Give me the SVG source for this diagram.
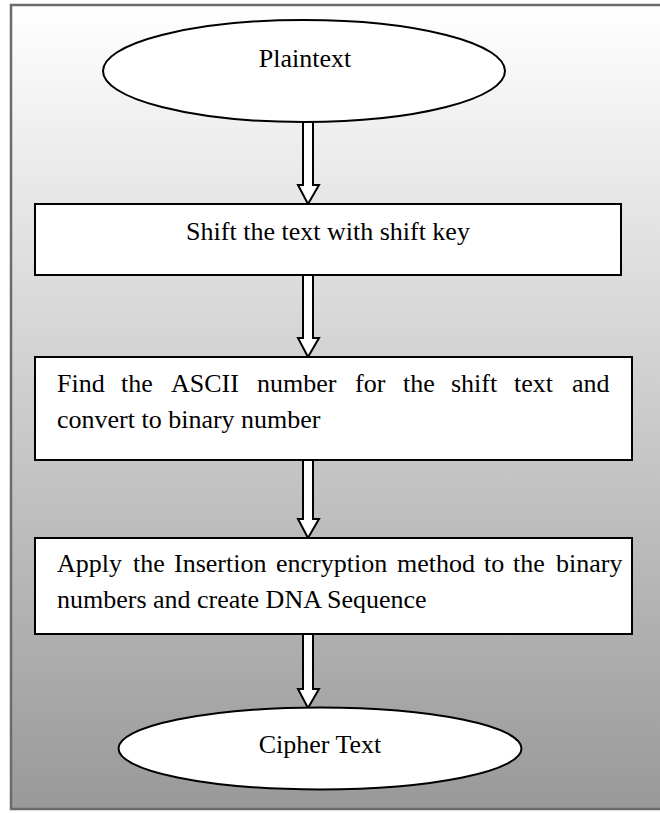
<svg xmlns="http://www.w3.org/2000/svg" width="660" height="813" viewBox="0 0 660 813">
<defs>
<linearGradient id="bg" x1="0" y1="0" x2="0" y2="1">
<stop offset="0" stop-color="#ffffff"/>
<stop offset="1" stop-color="#999999"/>
</linearGradient>
<style>
.node{fill:#ffffff;stroke:#000000;stroke-width:2}
.arrow{fill:#ffffff;stroke:#000000;stroke-width:2;stroke-linejoin:miter}
text{font-family:"Liberation Serif","Times New Roman","DejaVu Serif",serif;font-size:26px;fill:#000000}
.c{text-anchor:middle}
</style>
</defs>
<rect x="11" y="5" width="660" height="804" fill="url(#bg)" stroke="#6b6b6b" stroke-width="2.5"/>
<g id="connectors">
<path class="arrow" d="M303,122 L303,185 L298,185 L308,204 L319,185 L313,185 L313,122"/>
<path class="arrow" d="M303,275 L303,338 L298,338 L308,357 L319,338 L313,338 L313,275"/>
<path class="arrow" d="M303,460 L303,519 L298,519 L308,538 L319,519 L313,519 L313,460"/>
<path class="arrow" d="M303,634 L303,689 L298,689 L308,708 L319,689 L313,689 L313,634"/>
</g>
<g id="plaintext">
<ellipse class="node" cx="304" cy="71" rx="201" ry="51"/>
<text class="c" x="305" y="67" font-family="Liberation Serif, serif">Plaintext</text>
</g>
<g id="shift">
<rect class="node" x="35" y="204" width="586" height="71"/>
<text class="c" x="328" y="240" font-family="Liberation Serif, serif">Shift the text with shift key</text>
</g>
<g id="ascii">
<rect class="node" x="35" y="357" width="597" height="103"/>
<text y="392" font-family="Liberation Serif, serif"><tspan x="57">Find</tspan><tspan x="121">the</tspan><tspan x="171">ASCII</tspan><tspan x="257">number</tspan><tspan x="355">for</tspan><tspan x="403">the</tspan><tspan x="451">shift</tspan><tspan x="514">text</tspan><tspan x="572">and</tspan></text>
<text x="57" y="428" font-family="Liberation Serif, serif">convert to binary number</text>
</g>
<g id="insertion">
<rect class="node" x="35" y="538" width="597" height="96"/>
<text y="572" font-family="Liberation Serif, serif"><tspan x="57">Apply</tspan><tspan x="133">the</tspan><tspan x="174">Insertion</tspan><tspan x="276">encryption</tspan><tspan x="397">method</tspan><tspan x="484">to</tspan><tspan x="513">the</tspan><tspan x="556">binary</tspan></text>
<text x="57" y="608" font-family="Liberation Serif, serif">numbers and create DNA Sequence</text>
</g>
<g id="cipher">
<ellipse class="node" cx="320" cy="748.5" rx="201.5" ry="41"/>
<text class="c" x="320" y="753" font-family="Liberation Serif, serif">Cipher Text</text>
</g>
</svg>
